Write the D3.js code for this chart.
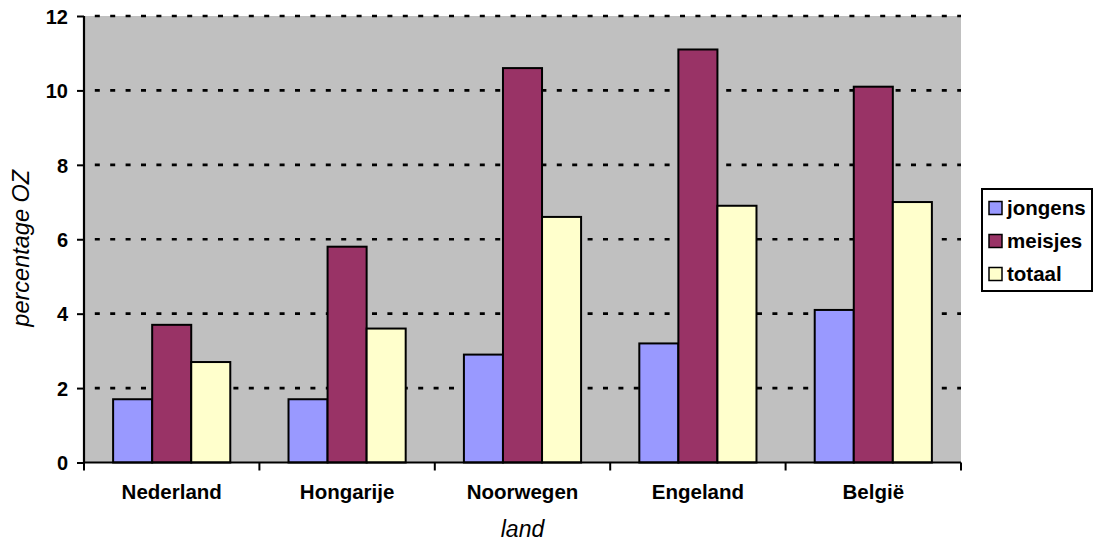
<!DOCTYPE html>
<html>
<head>
<meta charset="utf-8">
<script src="https://cdn.jsdelivr.net/npm/d3@7"></script>
<style>
  html, body { margin: 0; padding: 0; background: #fff; }
  svg { display: block; }
  text { font-family: "Liberation Sans", Arial, sans-serif; }
</style>
</head>
<body>
<svg id="chart" width="1094" height="541"></svg>
<script>
const categories = ["Nederland", "Hongarije", "Noorwegen", "Engeland", "België"];
const series = ["jongens", "meisjes", "totaal"];
const jongens = [1.7, 1.7, 2.9, 3.2, 4.1];
const meisjes = [3.7, 5.8, 10.6, 11.1, 10.1];
const totaal  = [2.7, 3.6, 6.6, 6.9, 7.0];
const yTicks = [0, 2, 4, 6, 8, 10, 12];
const colors = ["#9999FF", "#993366", "#FFFFCC"];

const values = { jongens, meisjes, totaal };

const svg = d3.select("#chart");
const pLeft = 84, pRight = 961, pTop = 16, pBottom = 462.5;

const x0 = d3.scaleBand().domain(categories).range([pLeft, pRight]).padding(0);
const bw = x0.bandwidth();
const x1 = d3.scaleBand().domain(series).range([bw * 0.166, bw * 0.834]).padding(0);
const y = d3.scaleLinear().domain([0, 12]).range([pBottom, pTop]);
const color = d3.scaleOrdinal().domain(series).range(colors);

// plot background
svg.append("rect")
  .attr("x", pLeft).attr("y", pTop)
  .attr("width", pRight - pLeft).attr("height", pBottom - pTop)
  .attr("fill", "#C0C0C0");

// gridlines
svg.append("g").selectAll("line")
  .data(yTicks.filter(d => d > 0))
  .join("line")
  .attr("x1", pLeft + 2).attr("x2", pRight)
  .attr("y1", d => y(d)).attr("y2", d => y(d))
  .attr("stroke", "#000")
  .attr("stroke-width", 2.6)
  .attr("stroke-dasharray", "5 10.4")
  .attr("stroke-dashoffset", -8.8);

// bars
const groups = svg.append("g").selectAll("g")
  .data(categories)
  .join("g")
  .attr("transform", d => `translate(${x0(d)},0)`);

groups.selectAll("rect")
  .data((c, i) => series.map(s => ({ s, v: values[s][i] })))
  .join("rect")
  .attr("x", d => x1(d.s))
  .attr("width", x1.bandwidth())
  .attr("y", d => y(d.v))
  .attr("height", d => y(0) - y(d.v))
  .attr("fill", d => color(d.s))
  .attr("stroke", "#000")
  .attr("stroke-width", 2);

// y axis
const yAxis = d3.axisLeft(y).tickValues(yTicks).tickSize(7).tickPadding(9);
const gy = svg.append("g").attr("transform", `translate(${pLeft},0)`).call(yAxis);
gy.select(".domain").attr("stroke", "#000").attr("stroke-width", 2.2)
  .attr("d", `M0,${pTop}V${pBottom}`);
gy.selectAll(".tick line").attr("stroke", "#000").attr("stroke-width", 2);
gy.selectAll(".tick text")
  .attr("font-family", "'Liberation Sans', Arial, sans-serif")
  .attr("font-size", "20px").attr("font-weight", "bold").attr("fill", "#000")
  .attr("dy", "0.36em");

// x axis
const xAxis = d3.axisBottom(x0).tickSize(0).tickPadding(22);
const gx = svg.append("g").attr("transform", `translate(0,${pBottom})`).call(xAxis);
gx.select(".domain").attr("stroke", "#000").attr("stroke-width", 2.2)
  .attr("d", `M${pLeft},0H${pRight}`);
gx.selectAll(".tick text")
  .attr("font-family", "'Liberation Sans', Arial, sans-serif")
  .attr("font-size", "20.5px").attr("font-weight", "bold").attr("fill", "#000");
// boundary tick marks between categories
const bounds = categories.map(c => x0(c)).concat([x0.range()[1]]);
gx.append("g").selectAll("line")
  .data(bounds)
  .join("line")
  .attr("x1", d => d).attr("x2", d => d)
  .attr("y1", 0).attr("y2", 8)
  .attr("stroke", "#000").attr("stroke-width", 2);

// axis titles
svg.append("text")
  .attr("transform", `translate(28.5,${(pTop + pBottom) / 2 + 9}) rotate(-90)`)
  .attr("text-anchor", "middle")
  .attr("font-size", "23.5px").attr("font-style", "italic")
  .text("percentage OZ");

svg.append("text")
  .attr("x", (pLeft + pRight) / 2)
  .attr("y", 537)
  .attr("text-anchor", "middle")
  .attr("font-size", "23px").attr("font-style", "italic")
  .text("land");

// legend
const lg = svg.append("g");
lg.append("rect")
  .attr("x", 982).attr("y", 189).attr("width", 110).attr("height", 102)
  .attr("fill", "#fff").attr("stroke", "#000").attr("stroke-width", 2);
const items = lg.selectAll("g.item")
  .data(series)
  .join("g")
  .attr("class", "item")
  .attr("transform", (d, i) => `translate(989,${214.5 + i * 33})`);
items.append("rect")
  .attr("x", 0).attr("y", -13).attr("width", 13).attr("height", 13)
  .attr("fill", d => color(d)).attr("stroke", "#000").attr("stroke-width", 1.5);
items.append("text")
  .attr("x", 18).attr("y", 0)
  .attr("font-size", "20.5px").attr("font-weight", "bold")
  .text(d => d);
</script>
</body>
</html>
